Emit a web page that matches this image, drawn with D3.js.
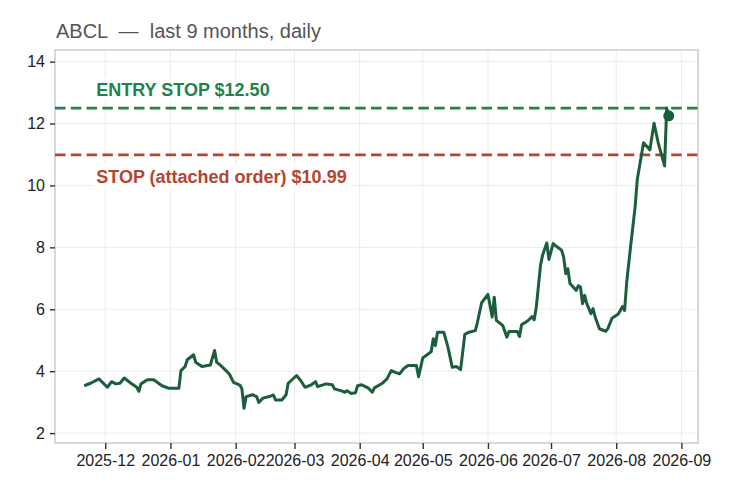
<!DOCTYPE html>
<html>
<head>
<meta charset="utf-8">
<script src="https://cdn.jsdelivr.net/npm/d3@7"></script>
<style>
  body { margin: 0; background: #fff; }
  svg { font-family: "Liberation Sans", Arial, sans-serif; }
</style>
</head>
<body>
<svg></svg>
<script>
// values
var dates = [
  "2025-11-21","2025-11-24","2025-11-28","2025-12-02","2025-12-04","2025-12-06","2025-12-08","2025-12-10",
  "2025-12-13","2025-12-16","2025-12-17","2025-12-18","2025-12-21","2025-12-24","2025-12-28","2025-12-31",
  "2026-01-05","2026-01-06","2026-01-08","2026-01-09","2026-01-12","2026-01-13","2026-01-16","2026-01-20",
  "2026-01-22","2026-01-23","2026-01-25","2026-01-29","2026-01-31","2026-02-03","2026-02-04","2026-02-05",
  "2026-02-06","2026-02-09","2026-02-11","2026-02-12","2026-02-14","2026-02-17","2026-02-19","2026-02-20",
  "2026-02-23","2026-02-25","2026-02-26","2026-03-02","2026-03-04","2026-03-06","2026-03-09","2026-03-11",
  "2026-03-12","2026-03-16","2026-03-19","2026-03-20","2026-03-23","2026-03-25","2026-03-26","2026-03-28",
  "2026-03-30","2026-03-31","2026-04-02","2026-04-05","2026-04-07","2026-04-08","2026-04-12","2026-04-14",
  "2026-04-16","2026-04-18","2026-04-20","2026-04-22","2026-04-24","2026-04-28","2026-04-29","2026-05-01",
  "2026-05-05","2026-05-06","2026-05-07","2026-05-08","2026-05-11","2026-05-13","2026-05-15","2026-05-17",
  "2026-05-19","2026-05-21","2026-05-23","2026-05-26","2026-05-27","2026-05-29","2026-06-01","2026-06-03",
  "2026-06-04","2026-06-05","2026-06-08","2026-06-10","2026-06-11","2026-06-15","2026-06-16","2026-06-17",
  "2026-06-20","2026-06-22","2026-06-23","2026-06-24","2026-06-26","2026-06-27","2026-06-29","2026-06-30",
  "2026-07-02","2026-07-04","2026-07-06","2026-07-07","2026-07-08","2026-07-09","2026-07-10","2026-07-13",
  "2026-07-14","2026-07-15","2026-07-16","2026-07-17","2026-07-18","2026-07-20","2026-07-21","2026-07-22",
  "2026-07-24","2026-07-27","2026-07-28","2026-07-30","2026-08-02","2026-08-04","2026-08-05","2026-08-06",
  "2026-08-08","2026-08-10","2026-08-11","2026-08-14","2026-08-17","2026-08-19","2026-08-21","2026-08-24",
  "2026-08-25","2026-08-26"
];
var prices = [
  3.53, 3.61, 3.75, 3.48, 3.66, 3.59, 3.61, 3.78,
  3.62, 3.48, 3.35, 3.59, 3.72, 3.72, 3.53, 3.45,
  3.45, 4.02, 4.15, 4.37, 4.53, 4.29, 4.15, 4.20,
  4.67, 4.29, 4.18, 3.91, 3.64, 3.55, 3.43, 2.80,
  3.18, 3.24, 3.18, 2.99, 3.13, 3.18, 3.23, 3.07,
  3.07, 3.24, 3.61, 3.86, 3.69, 3.48, 3.56, 3.66,
  3.50, 3.59, 3.56, 3.43, 3.37, 3.32, 3.37, 3.28,
  3.30, 3.53, 3.56, 3.46, 3.32, 3.46, 3.62, 3.75,
  4.02, 3.96, 3.91, 4.09, 4.18, 4.18, 3.82, 4.43,
  4.63, 5.05, 4.83, 5.26, 5.26, 4.77, 4.13, 4.15,
  4.05, 5.19, 5.26, 5.31, 5.58, 6.21, 6.48, 5.75,
  6.39, 5.64, 5.48, 5.10, 5.28, 5.28, 5.12, 5.50,
  5.63, 5.76, 5.66, 6.07, 7.42, 7.75, 8.14, 7.61,
  8.12, 8.01, 7.91, 7.69, 7.15, 7.31, 6.83, 6.61,
  6.76, 6.72, 6.18, 6.45, 6.18, 5.86, 6.02, 5.75,
  5.37, 5.29, 5.37, 5.71, 5.85, 6.09, 5.96, 6.88,
  8.12, 9.31, 10.18, 11.38, 11.15, 12.01, 11.37, 10.63,
  12.50, 12.25
];
var entryStop = 12.50;
var stopLoss = 10.99;
var entryLabel = "ENTRY STOP $12.50";
var stopLabel = "STOP (attached order) $10.99";
var titleText = "ABCL  \u2014  last 9 months, daily";
var yTicks = [2, 4, 6, 8, 10, 12, 14];

var width = 735, height = 495,
    margin = {top: 50, right: 37, bottom: 52, left: 55};

var svg = d3.select("svg").attr("width", width).attr("height", height);

var parse = d3.timeParse("%Y-%m-%d");
var data = dates.map(function(d, i) { return {date: parse(d), value: prices[i]}; });

var ext = d3.extent(data, d => d.date);
var pad = (ext[1] - ext[0]) * 0.05;

var x = d3.scaleTime()
    .domain([new Date(+ext[0] - pad), new Date(+ext[1] + pad)])
    .range([margin.left, width - margin.right]);

var y = d3.scaleLinear()
    .domain([d3.min(prices) * 0.6, d3.max(prices.concat([entryStop])) * 1.15])
    .range([height - margin.bottom, margin.top]);

var monthTicks = x.ticks(d3.timeMonth.every(1));

// grid
var grid = svg.append("g").attr("stroke", "#ebebeb").attr("stroke-width", 1);
grid.selectAll("line.gy").data(yTicks).join("line")
    .attr("x1", margin.left).attr("x2", width - margin.right)
    .attr("y1", d => y(d)).attr("y2", d => y(d));
grid.selectAll("line.gx").data(monthTicks).join("line")
    .attr("y1", margin.top).attr("y2", height - margin.bottom)
    .attr("x1", d => x(d)).attr("x2", d => x(d));

// frame
svg.append("rect")
    .attr("x", margin.left).attr("y", margin.top)
    .attr("width", width - margin.left - margin.right)
    .attr("height", height - margin.top - margin.bottom)
    .attr("fill", "none").attr("stroke", "#d0d0d0").attr("stroke-width", 1.6);

// axes
var yAxis = svg.append("g")
    .attr("transform", "translate(" + margin.left + ",0)")
    .call(d3.axisLeft(y).tickValues(yTicks).tickSize(5).tickPadding(5));
var xAxis = svg.append("g")
    .attr("transform", "translate(0," + (height - margin.bottom) + ")")
    .call(d3.axisBottom(x).tickValues(monthTicks).tickFormat(d3.timeFormat("%Y-%m")).tickSize(6).tickPadding(6));
[yAxis, xAxis].forEach(function(a) {
    a.select(".domain").remove();
    a.selectAll(".tick line").attr("stroke", "#333").attr("stroke-width", 1.4);
    a.selectAll(".tick text").attr("fill", "#222").style("font-size", "16px")
        .style("font-family", "'Liberation Sans', Arial, sans-serif");
});

// level lines
var levels = [
    {value: entryStop, color: "#1e8449", label: entryLabel, off: -12},
    {value: stopLoss, color: "#b5452f", label: stopLabel, off: 28}
];
svg.selectAll("line.level").data(levels).join("line")
    .attr("x1", margin.left).attr("x2", width - margin.right)
    .attr("y1", d => y(d.value)).attr("y2", d => y(d.value))
    .attr("stroke", d => d.color).attr("stroke-width", 2.8)
    .attr("stroke-dasharray", "10.5,5.3");

levels.forEach(function(d) {
    var g = svg.append("g");
    var t = g.append("text")
        .attr("x", x(data[0].date) + 12)
        .attr("y", y(d.value) + d.off)
        .attr("fill", d.color)
        .style("font-weight", "bold")
        .style("font-size", "18px")
        .text(d.label);
    var bb = t.node().getBBox();
    g.insert("rect", "text")
        .attr("x", bb.x - 4).attr("y", bb.y - 2)
        .attr("width", bb.width + 8).attr("height", bb.height + 4)
        .attr("fill", "#fff").attr("fill-opacity", 0.85);
});

// price line
var line = d3.line().x(d => x(d.date)).y(d => y(d.value));
svg.append("path").datum(data)
    .attr("d", line)
    .attr("fill", "none")
    .attr("stroke", "#1a5e3c")
    .attr("stroke-width", 3)
    .attr("stroke-linejoin", "round");

var last = data[data.length - 1];
svg.append("circle")
    .attr("cx", x(last.date)).attr("cy", y(last.value))
    .attr("r", 5.5).attr("fill", "#1a5e3c");

// title
svg.append("text")
    .attr("x", margin.left + 1).attr("y", 37.5)
    .attr("fill", "#555")
    .style("font-size", "20px")
    .style("white-space", "pre")
    .text(titleText);
</script>
</body>
</html>
